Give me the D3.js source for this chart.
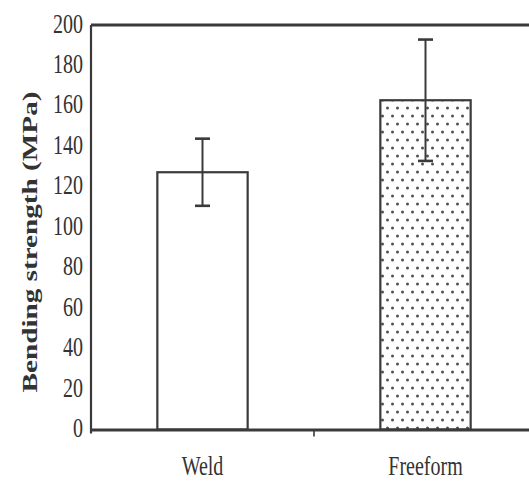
<!DOCTYPE html>
<html>
<head>
<meta charset="utf-8">
<script src="https://cdn.jsdelivr.net/npm/d3@7"></script>
<style>
	body { margin: 0; background: #fff; }
	text { font-family: "Liberation Serif", "Times New Roman", serif; fill: #333; }
</style>
</head>
<body>
<svg id="chart" width="529" height="481"></svg>
<script>
const categories = ['Weld', 'Freeform']
const strength = [127.2, 162.8]
const errorBar = [16.6, 30]
const yTicks = [0, 20, 40, 60, 80, 100, 120, 140, 160, 180, 200]

// picture is stretched vertically, text gets the same stretch
const stretch = 1.39
const ink = '#3a3a3a'

const svg = d3.select('#chart')
const margin = {top: 25, left: 91, bottom: 51.5}
const height = +svg.attr('height')

const xScale = d3.scaleBand()
	.domain(categories)
	.range([margin.left, 537])

const yScale = d3.scaleLinear()
	.domain([0, 200])
	.range([height - margin.bottom, margin.top])

const barWidth = xScale.bandwidth() * 0.405

const defs = svg.append('defs')
const dots = defs.append('pattern')
	.attr('id', 'dots')
	.attr('patternUnits', 'userSpaceOnUse')
	.attr('width', 10)
	.attr('height', 16)
dots.append('rect').attr('width', 10).attr('height', 16).attr('fill', '#fff')
dots.append('circle').attr('cx', 2.5).attr('cy', 4).attr('r', 1.5).attr('fill', '#505050')
dots.append('circle').attr('cx', 7.5).attr('cy', 12).attr('r', 1.5).attr('fill', '#505050')

// bars
svg.append('g')
	.selectAll('rect')
	.data(categories)
	.enter().append('rect')
	.attr('x', d => xScale(d) + xScale.bandwidth() / 2 - barWidth / 2)
	.attr('y', (d, i) => yScale(strength[i]))
	.attr('width', barWidth)
	.attr('height', (d, i) => yScale(0) - yScale(strength[i]))
	.attr('fill', (d, i) => i == 0 ? '#fff' : 'url(#dots)')
	.attr('stroke', ink)
	.attr('stroke-width', 2.2)

// error bars
const errs = svg.append('g')
	.selectAll('g')
	.data(categories)
	.enter().append('g')
	.attr('stroke', ink)

errs.append('line')
	.attr('x1', d => xScale(d) + xScale.bandwidth() / 2)
	.attr('x2', d => xScale(d) + xScale.bandwidth() / 2)
	.attr('y1', (d, i) => yScale(strength[i] + errorBar[i]))
	.attr('y2', (d, i) => yScale(strength[i] - errorBar[i]))
	.attr('stroke-width', 2)

errs.selectAll('.cap')
	.data((d, i) => [[d, strength[i] + errorBar[i]], [d, strength[i] - errorBar[i]]])
	.enter().append('line')
	.attr('class', 'cap')
	.attr('x1', d => xScale(d[0]) + xScale.bandwidth() / 2 - 7.5)
	.attr('x2', d => xScale(d[0]) + xScale.bandwidth() / 2 + 7.5)
	.attr('y1', d => yScale(d[1]))
	.attr('y2', d => yScale(d[1]))
	.attr('stroke-width', 2.6)

// frame: top line, left axis, bottom axis
svg.append('line')
	.attr('x1', margin.left).attr('x2', 537)
	.attr('y1', yScale(200)).attr('y2', yScale(200))
	.attr('stroke', ink).attr('stroke-width', 2.8)

const yAxis = d3.axisLeft(yScale)
	.tickValues(yTicks)
	.tickSize(0)
	.tickPadding(8)

const yAxisData = svg.append('g')
	.attr('transform', `translate(${margin.left}, 0)`)
	.call(yAxis)

yAxisData.select('.domain').remove()
yAxisData.append('line')
	.attr('y1', yScale(200)).attr('y2', yScale(0) + 4)
	.attr('stroke', ink).attr('stroke-width', 2.2)

yAxisData.selectAll('text')
	.attr('x', null)
	.attr('dy', null)
	.attr('transform', `translate(-8, 7) scale(1, ${stretch})`)
	.style('font-size', '20px')
	.attr('fill', '#333')

const xAxis = d3.axisBottom(xScale)
	.tickSize(0)
	.tickPadding(0)

const xAxisData = svg.append('g')
	.attr('transform', `translate(0, ${yScale(0)})`)
	.call(xAxis)

xAxisData.select('.domain')
	.attr('stroke', ink)
	.attr('stroke-width', 2.8)

// small ticks between the categories
xAxisData.selectAll('.divider')
	.data(xScale.domain().slice(1))
	.enter().append('line')
	.attr('class', 'divider')
	.attr('x1', d => xScale(d)).attr('x2', d => xScale(d))
	.attr('y1', 0).attr('y2', 7)
	.attr('stroke', ink).attr('stroke-width', 1.6)

xAxisData.selectAll('.tick text')
	.attr('y', null)
	.attr('dy', null)
	.attr('transform', `translate(0, 45) scale(1, ${stretch})`)
	.style('font-size', '20px')
	.attr('fill', '#333')

svg.append('text')
	.text('Bending strength (MPa)')
	.attr('text-anchor', 'middle')
	.attr('transform', `translate(37, 242) scale(1, ${stretch}) rotate(-90)`)
	.style('font-size', '21px')
	.style('font-weight', 'bold')
</script>
</body>
</html>
